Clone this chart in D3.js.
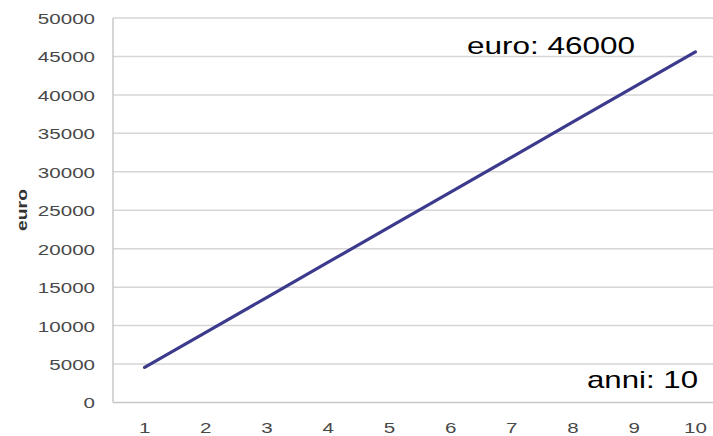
<!DOCTYPE html>
<html>
<head>
<meta charset="utf-8">
<script src="https://cdn.jsdelivr.net/npm/d3@7"></script>
<style>
  html, body { margin: 0; padding: 0; background: #fff; }
  svg { display: block; }
</style>
</head>
<body>
<svg id="chart" width="713" height="436"></svg>
<script>
const years = ["1","2","3","4","5","6","7","8","9","10"];
const euroValues = [4560, 9120, 13680, 18240, 22800, 27360, 31920, 36480, 41040, 45600];
const yTicks = [0, 5000, 10000, 15000, 20000, 25000, 30000, 35000, 40000, 45000, 50000];
const yTitle = "euro";
const annotTop = "euro: 46000";
const annotBottom = "anni: 10";

const svg = d3.select("#chart");
const stretch = 1.37;

const x = d3.scaleBand().domain(years).range([114, 726]).padding(0);
const y = d3.scaleLinear().domain([0, 50000]).range([402.5, 18]);

// gridlines
svg.append("g").selectAll("line").data(yTicks.filter(d => d > 0)).join("line")
  .attr("x1", 113).attr("x2", 713)
  .attr("y1", d => y(d)).attr("y2", d => y(d))
  .attr("stroke", "#d6d6d6").attr("stroke-width", 1.5);

// axes lines
svg.append("line").attr("x1", 113).attr("x2", 713).attr("y1", y(0)).attr("y2", y(0))
  .attr("stroke", "#c8c8c8").attr("stroke-width", 1.5);
svg.append("line").attr("x1", 113).attr("x2", 113).attr("y1", y(50000)).attr("y2", y(0))
  .attr("stroke", "#c8c8c8").attr("stroke-width", 1.5);

// y axis labels
const yAxis = d3.axisLeft(y).tickValues(yTicks).tickSize(0).tickPadding(0).tickFormat(d3.format("d"));
const gy = svg.append("g").attr("transform", "translate(95,0)").call(yAxis);
gy.select(".domain").remove();
gy.selectAll("text")
  .attr("font-family", "Liberation Sans, Arial, sans-serif")
  .attr("font-size", 15).attr("fill", "#484848")
  .attr("x", null).attr("dy", "0.36em")
  .attr("transform", `scale(${stretch},1)`)
  .attr("text-anchor", "end");

// x axis labels
const xAxis = d3.axisBottom(x).tickSize(0).tickPadding(0);
const gx = svg.append("g").attr("transform", "translate(0,432.5)").call(xAxis);
gx.select(".domain").remove();
gx.selectAll("text")
  .attr("font-family", "Liberation Sans, Arial, sans-serif")
  .attr("font-size", 15).attr("fill", "#484848")
  .attr("y", 0).attr("dy", null)
  .attr("transform", `scale(${stretch},1)`);

// y title
svg.append("text")
  .attr("transform", "translate(27,210) rotate(-90)")
  .attr("text-anchor", "middle")
  .attr("font-family", "Liberation Sans, Arial, sans-serif")
  .attr("font-size", 15).attr("font-weight", "bold").attr("fill", "#333")
  .attr("textLength", 42).attr("lengthAdjust", "spacingAndGlyphs")
  .text(yTitle);

// line
const line = d3.line().x((d, i) => x(years[i]) + x.bandwidth() / 2).y(d => y(d));
svg.append("path").datum(euroValues)
  .attr("d", line)
  .attr("fill", "none")
  .attr("stroke", "#3c3a8c")
  .attr("stroke-width", 3.2)
  .attr("stroke-linecap", "round");

// annotations
svg.append("text")
  .attr("x", 467).attr("y", 53.5)
  .attr("font-family", "Liberation Sans, Arial, sans-serif")
  .attr("font-size", 23).attr("fill", "#000")
  .attr("textLength", 168).attr("lengthAdjust", "spacingAndGlyphs")
  .text(annotTop);
svg.append("text")
  .attr("x", 587).attr("y", 387.5)
  .attr("font-family", "Liberation Sans, Arial, sans-serif")
  .attr("font-size", 24).attr("fill", "#000")
  .attr("textLength", 111).attr("lengthAdjust", "spacingAndGlyphs")
  .text(annotBottom);
</script>
</body>
</html>
